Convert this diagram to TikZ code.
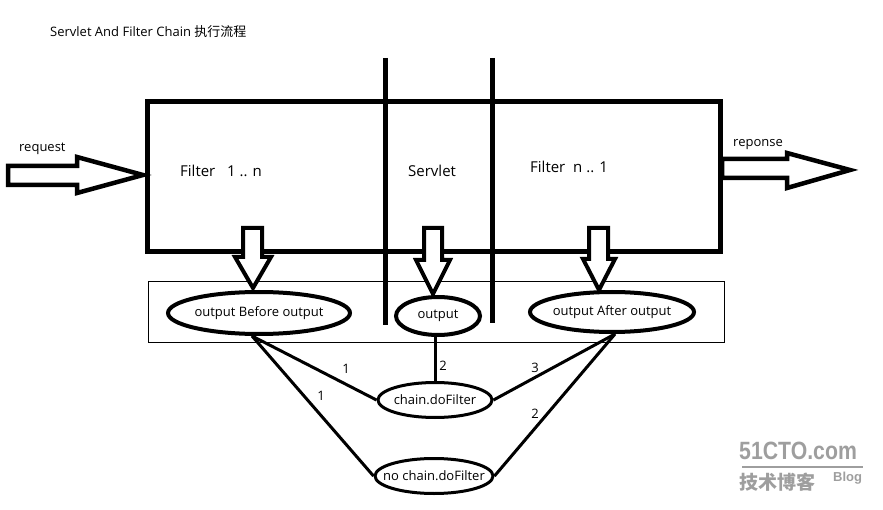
\documentclass[tikz,border=0pt]{standalone}
\usepackage{fontspec}
\setmainfont{Open Sans}
\newfontfamily\cjk{Noto Sans CJK SC}
\newfontfamily\wmfont{Liberation Sans}
\usetikzlibrary{shapes.geometric}
\newcommand{\zw}[1]{\makebox[0pt]{#1}}
\begin{document}
\begin{tikzpicture}[x=1pt,y=-1pt,
  txt/.style={inner sep=0pt, font=\fontsize{13}{15}\selectfont},
  bigtxt/.style={inner sep=0pt, font=\fontsize{15}{17}\selectfont},
  oval/.style={ellipse, draw, line width=4pt, inner sep=0pt, font=\fontsize{13}{15}\selectfont},
  thinoval/.style={ellipse, draw, line width=3pt, inner sep=0pt, font=\fontsize{13}{15}\selectfont},
  blockarrow/.style={draw, fill=white, line width=4.5pt, line join=miter},
  link/.style={line width=3pt},
  heavy/.style={line width=5pt},
  wm/.style={inner sep=0pt, text=black!38}
]
\useasboundingbox (0,0) rectangle (883,510);

% title
\node[txt, anchor=west, font=\fontsize{13}{15}\selectfont] (title) at (50,32) {Servlet And Filter Chain {\cjk 执行流程}};

% big box and dividers
\draw[heavy] (147,102) rectangle (720,252);
\draw[heavy] (385,58) -- (385,325);
\draw[heavy] (492,58) -- (492,323);

% inner labels
\node[bigtxt, anchor=west] (f1) at (180,171) {Filter\ \ \ 1 .. n};
\node[bigtxt, anchor=west] (sv) at (408,171) {Servlet};
\node[bigtxt, anchor=west] (f2) at (530,167) {Filter\ \ n .. 1};

% request / reponse arrows
\node[txt, anchor=west] (req) at (19,149) {request};
\draw[blockarrow] (8,166) -- (77,166) -- (77,157) -- (143,175) -- (77,193) -- (77,185) -- (8,185) -- cycle;
\node[txt, anchor=west] (rep) at (733,145) {reponse};
\draw[blockarrow] (722,159) -- (787,159) -- (787,153) -- (850,170) -- (787,188) -- (787,178) -- (722,178) -- cycle;

% lower thin box
\draw[line width=1pt] (148,282) rectangle (724,343);

% ellipses
\node[oval, minimum width=182, minimum height=42] (lb) at (259,313) {\zw{output Before output}};
\node[oval, minimum width=84, minimum height=38] (mo) at (438,316) {\zw{output}};
\node[oval, minimum width=164, minimum height=40] (ra) at (612,312) {\zw{output After output}};

% down block arrows
\draw[blockarrow, line width=4pt] (243,228) -- (262,228) -- (262,257) -- (271,257) -- (253,288) -- (235,257) -- (243,257) -- cycle;
\draw[blockarrow, line width=4pt] (424,228) -- (442,228) -- (442,260) -- (450,260) -- (433,294) -- (416,260) -- (424,260) -- cycle;
\draw[blockarrow, line width=4pt] (589,228) -- (608,228) -- (608,259) -- (615,259) -- (599,290) -- (583,259) -- (589,259) -- cycle;

% chain ellipses
\node[thinoval, minimum width=114, minimum height=35] (cd) at (435,400) {\zw{chain.doFilter}};
\node[thinoval, minimum width=118, minimum height=35] (nd) at (434,476) {\zw{no chain.doFilter}};

% connectors
\draw[link] ([xshift=-7pt]lb.south) -- (cd.west);
\draw[link] ([xshift=-7pt]lb.south) -- (nd.west);
\draw[link] (cd.north |- mo.south) -- (cd.north);
\draw[link] ([xshift=3pt]ra.south) -- (cd.east);
\draw[link] ([xshift=3pt]ra.south) -- (nd.east);

% connector labels
\node[txt] (l1) at (346,369) {1};
\node[txt] (l2) at (321,396) {1};
\node[txt] (l3) at (443,366) {2};
\node[txt] (l4) at (535,368) {3};
\node[txt] (l5) at (535,414) {2};

% watermark
\node[wm, anchor=west, font=\wmfont\bfseries\fontsize{25}{27}\selectfont] (w1) at (739,451) {\scalebox{0.85}[1]{51CTO.com}};
\draw[black!38, line width=2pt] (742,467) -- (863,467);
\node[wm, anchor=west, font=\cjk\bfseries\fontsize{19}{21}\selectfont] (w2) at (739,482) {技术博客};
\node[wm, anchor=west, font=\wmfont\bfseries\fontsize{13}{15}\selectfont] (w3) at (833,478) {Blog};
\end{tikzpicture}
\end{document}
